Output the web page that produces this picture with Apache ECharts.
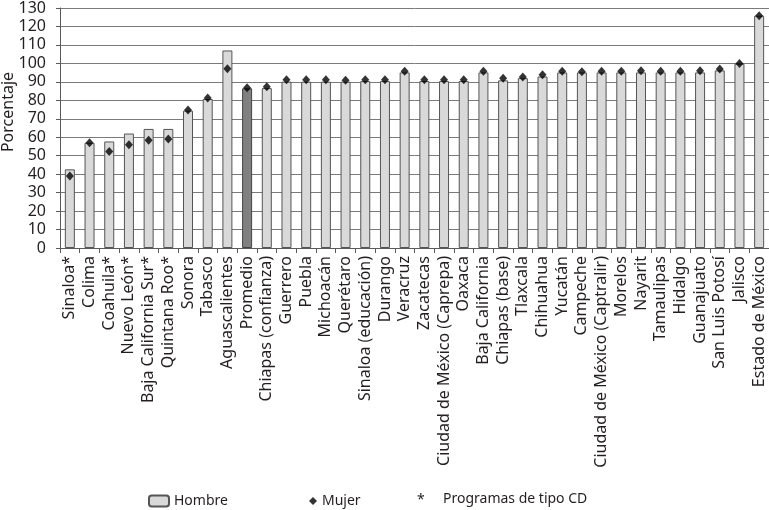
<!DOCTYPE html>
<html>
<head>
<meta charset="utf-8">
<script src="https://cdn.jsdelivr.net/npm/echarts@6/dist/echarts.min.js"></script>
<style>html,body{margin:0;padding:0;background:#fff}#c{width:769px;height:510px}</style>
</head>
<body>
<div id="c"></div>
<script>
const categories = ["Sinaloa*","Colima","Coahuila*","Nuevo León*","Baja California Sur*","Quintana Roo*","Sonora","Tabasco","Aguascalientes","Promedio","Chiapas (confianza)","Guerrero","Puebla","Michoacán","Querétaro","Sinaloa (educación)","Durango","Veracruz","Zacatecas","Ciudad de México (Caprepa)","Oaxaca","Baja California","Chiapas (base)","Tlaxcala","Chihuahua","Yucatán","Campeche","Ciudad de México (Captralir)","Morelos","Nayarit","Tamaulipas","Hidalgo","Guanajuato","San Luis Potosí","Jalisco","Estado de México"];
const hombre = [42.6,57,57.7,62,64.5,64.5,74.4,80.7,107,86.5,86.6,90.1,90.1,90.1,90.1,90.4,90.4,95.1,90.4,90.4,90.4,95.1,90.8,92,92.9,95.1,95.1,95.1,95.1,95.1,95.1,95.1,95.1,96.2,99.8,125.8];
const mujer = [39,57,52.3,55.9,58.4,59.1,74.8,81.2,97.1,86.8,87.4,91.1,91.1,91.1,90.8,91.1,91.1,95.8,91.1,91.1,91.1,95.8,91.9,92.6,93.8,95.8,95.5,95.8,95.8,96,95.8,95.8,96,96.9,100,125.8];
const yTicks = [0,10,20,30,40,50,60,70,80,90,100,110,120,130];
const highlight = "Promedio";

const font = "Noto Sans";
const ink = '#231f20';
const chart = echarts.init(document.getElementById('c'), null, {renderer:'canvas'});
chart.setOption({
  animation:false,
  textStyle:{fontFamily:font,color:ink},
  grid:{left:60,right:0,top:8,bottom:262,containLabel:false},
  xAxis:{
    type:'category', data:categories,
    axisLine:{lineStyle:{color:'#5a5a5a',width:1}},
    axisTick:{show:true,alignWithLabel:false,length:5,lineStyle:{color:'#5a5a5a'}},
    axisLabel:{interval:0,rotate:90,margin:8,fontSize:16,fontFamily:font,color:ink}
  },
  yAxis:{
    type:'value', min:0, max:130, interval:10,
    axisLine:{show:true,lineStyle:{color:'#5a5a5a'}},
    axisTick:{show:true,length:4,lineStyle:{color:'#5a5a5a'}},
    axisLabel:{fontSize:16,margin:14,color:ink,fontFamily:font,
      formatter:v=>yTicks.includes(v)?String(v):''},
    splitLine:{lineStyle:{color:'#7a7a7a',width:1}}
  },
  legend:[
    {data:['Hombre'],left:148,top:494,padding:0,itemWidth:20,itemHeight:11,
     textStyle:{fontSize:14,fontFamily:font,color:ink}},
    {data:[{name:'Mujer',icon:'diamond'}],left:309,top:494,padding:0,itemWidth:8,itemHeight:8,
     textStyle:{fontSize:14,fontFamily:font,color:ink}}
  ],
  graphic:[
    {type:'text',left:417,top:493,style:{text:'*',fontSize:14,fontFamily:font,fill:ink}},
    {type:'text',left:443,top:492,style:{text:'Programas de tipo CD',fontSize:14,fontFamily:font,fill:ink}},
    {type:'text',x:8,y:112,rotation:Math.PI/2,style:{text:'Porcentaje',fontSize:16,fontFamily:font,fill:ink,align:'center',verticalAlign:'middle'}}
  ],
  series:[
    {name:'Hombre',type:'bar',barWidth:10,
     itemStyle:{color:'#d9d9d9',borderColor:'#555555',borderWidth:1},
     data:hombre.map((v,i)=>categories[i]===highlight?{value:v,itemStyle:{color:'#808080',borderColor:'#444444'}}:v)},
    {name:'Mujer',type:'scatter',symbol:'diamond',symbolSize:[8,9],
     itemStyle:{color:'#000'},data:mujer,z:5}
  ]
});
</script>
</body>
</html>
